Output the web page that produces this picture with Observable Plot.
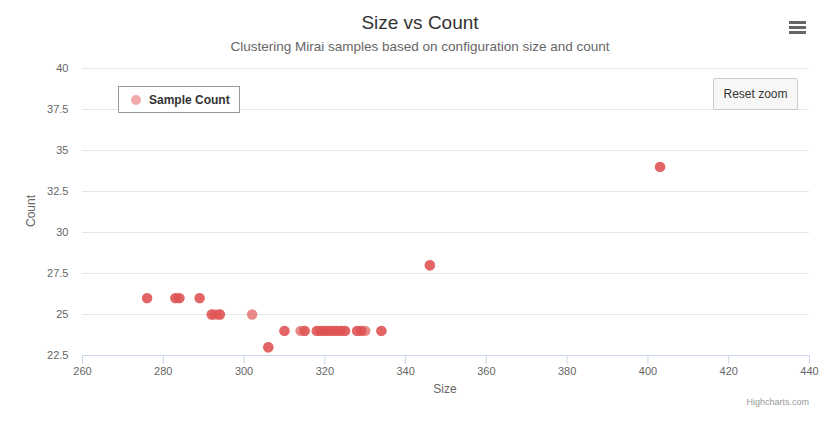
<!DOCTYPE html>
<html>
<head>
<meta charset="utf-8">
<script src="https://cdn.jsdelivr.net/npm/d3@7"></script>
<script src="https://cdn.jsdelivr.net/npm/@observablehq/plot@0.6"></script>
<style>
  html, body { margin: 0; padding: 0; background: #fff; }
  #wrap { position: relative; width: 840px; height: 427px; font-family: "Liberation Sans", Arial, sans-serif; }
  .abs { position: absolute; white-space: nowrap; }
  #title { left: 0; width: 840px; top: 12px; text-align: center; font-size: 19px; color: #333; }
  #subtitle { left: 0; width: 840px; top: 39px; text-align: center; font-size: 13.5px; color: #666; }
  #ylab { left: 31px; top: 211px; font-size: 12px; color: #666; transform: translate(-50%, -50%) rotate(-90deg); }
  #xlab { left: 445px; top: 389px; font-size: 12px; color: #666; transform: translate(-50%, -50%); }
  #credits { right: 31px; top: 397px; font-size: 9px; color: #999; }
  #legend { left: 118px; top: 86px; width: 122px; height: 27px; border: 1px solid #999; box-sizing: border-box; background: #fff; }
  #legend .m { position: absolute; left: 12px; top: 8px; width: 10px; height: 10px; border-radius: 50%; background: rgba(223,83,83,0.5); }
  #legend .t { position: absolute; left: 30px; top: 6px; font-size: 12px; font-weight: bold; color: #333; }
  #reset { left: 713px; top: 78px; width: 85px; height: 32px; box-sizing: border-box; border: 1px solid #ccc; border-radius: 2px; background: #f7f7f7; font-size: 12px; color: #333; text-align: center; line-height: 31px; }
  #menu { left: 789px; top: 21px; width: 17px; height: 14px; }
  #menu div { position: absolute; left: 0; width: 17px; height: 3px; background: #666; }
</style>
</head>
<body>
<div id="wrap">
  <div id="chart"></div>
  <div class="abs" id="title">Size vs Count</div>
  <div class="abs" id="subtitle">Clustering Mirai samples based on configuration size and count</div>
  <div class="abs" id="ylab">Count</div>
  <div class="abs" id="xlab">Size</div>
  <div class="abs" id="credits">Highcharts.com</div>
  <div class="abs" id="legend"><div class="m"></div><div class="t">Sample Count</div></div>
  <div class="abs" id="reset">Reset zoom</div>
  <div class="abs" id="menu"><div style="top:0"></div><div style="top:5px"></div><div style="top:10px"></div></div>
</div>
<script>
const seriesName = "Sample Count";
const sizes  = [276,276,283,283,284,284,289,289,292,292,293,294,294,302,306,306,310,310,314,315,315,
                318,318,319,319,320,320,321,321,322,322,323,323,324,324,325,325,328,328,329,329,330,334,334,346,346,403,403];
const counts = [26,26,26,26,26,26,26,26,25,25,25,25,25,25,23,23,24,24,24,24,24,
                24,24,24,24,24,24,24,24,24,24,24,24,24,24,24,24,24,24,24,24,24,24,24,28,28,34,34];
const xTicks = [260,280,300,320,340,360,380,400,420,440];
const yTicks = [22.5,25,27.5,30,32.5,35,37.5,40];

const data = sizes.map((s, i) => ({size: s, count: counts[i], series: seriesName}));

const chart = Plot.plot({
  width: 840,
  height: 427,
  marginLeft: 82,
  marginRight: 31,
  marginTop: 68,
  marginBottom: 72,
  style: {fontFamily: "Liberation Sans, Arial, sans-serif", fontSize: "11px", color: "#666", background: "transparent"},
  x: {domain: [260, 440]},
  y: {domain: [22.5, 40]},
  marks: [
    Plot.ruleY(yTicks.slice(1), {stroke: "#e6e6e6", strokeWidth: 1}),
    Plot.ruleY([yTicks[0]], {stroke: "#ccd6eb", strokeWidth: 1}),
    Plot.axisX({ticks: xTicks, tickSize: 9, tickPadding: 3, stroke: "#ccd6eb", fill: "#666", label: null, tickFormat: d => String(d)}),
    Plot.axisY({ticks: yTicks, tickSize: 0, tickPadding: 14, fill: "#666", label: null, tickFormat: d => String(d)}),
    Plot.dot(data, {x: "size", y: "count", r: 5.2, fill: "#df5353", fillOpacity: 0.68, stroke: "none"})
  ]
});
document.getElementById("chart").appendChild(chart);
</script>
</body>
</html>
